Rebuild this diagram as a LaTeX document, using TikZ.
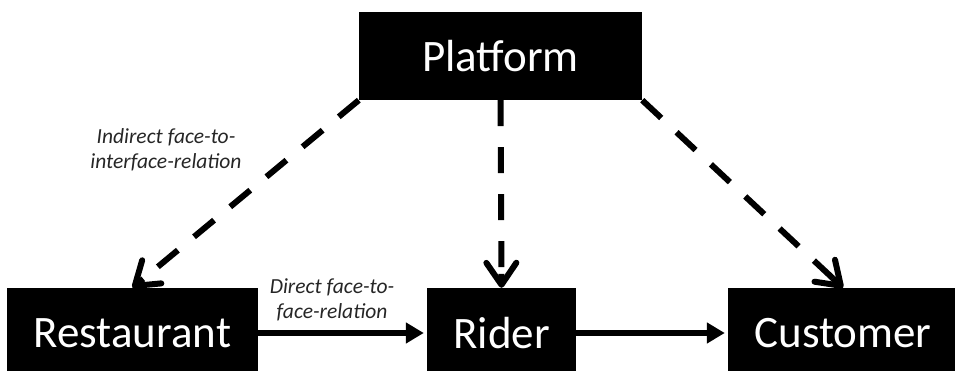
\documentclass[tikz,border=0pt]{standalone}
\usepackage{fontspec}
\setmainfont{Carlito}
\usetikzlibrary{arrows.meta,calc}
\begin{document}
\begin{tikzpicture}[x=1pt,y=1pt,
  box/.style={draw=none,fill=black,text=white,inner sep=0pt,font=\fontsize{45}{54}\selectfont},
  lbl/.style={align=center,inner sep=0pt,text=black!85,font=\fontsize{21.5}{25}\selectfont\itshape},
  dashline/.style={line width=6pt,dash pattern=on 26pt off 21pt},
  barb/.style={line width=6pt,solid,-{Straight Barb[length=22pt,width=30pt,round]}},
  solidarrow/.style={line width=6pt,-{Triangle[length=18pt,width=20pt]},shorten >=3pt}]
\useasboundingbox (0,0) rectangle (955,371);
\clip (0,0) rectangle (955,371);
\node[box,minimum width=283pt,minimum height=88pt] (plat) at (500.5,315) {Platform};
\node[box,minimum width=251pt,minimum height=90pt] (rest) at (132.5,38) {Restaurant};
\node[box,minimum width=149pt,minimum height=90pt] (rider) at (501.5,38) {Rider};
\node[box,minimum width=230pt,minimum height=90pt] (cust) at (843,38) {Customer};
\draw[dashline] (plat.south west) -- ($(rest.north)!12pt!(plat.south west)$);
\draw[barb] ($(rest.north)!14pt!(plat.south west)$) -- (rest.north);
\draw[dashline] (plat.south) -- ($(rider.north)!12pt!(plat.south)$);
\draw[barb] ($(rider.north)!14pt!(plat.south)$) -- (rider.north);
\draw[dashline] (plat.south east) -- ($(cust.north)!12pt!(plat.south east)$);
\draw[barb] ($(cust.north)!14pt!(plat.south east)$) -- (cust.north);
\draw[solidarrow] (rest.east) -- (rider.west);
\draw[solidarrow] (rider.east) -- (cust.west);
\node[lbl] (ind) at (166,221) {Indirect face-to-\\interface-relation};
\node[lbl] (dir) at (332,71) {Direct face-to-\\face-relation};
\end{tikzpicture}
\end{document}
